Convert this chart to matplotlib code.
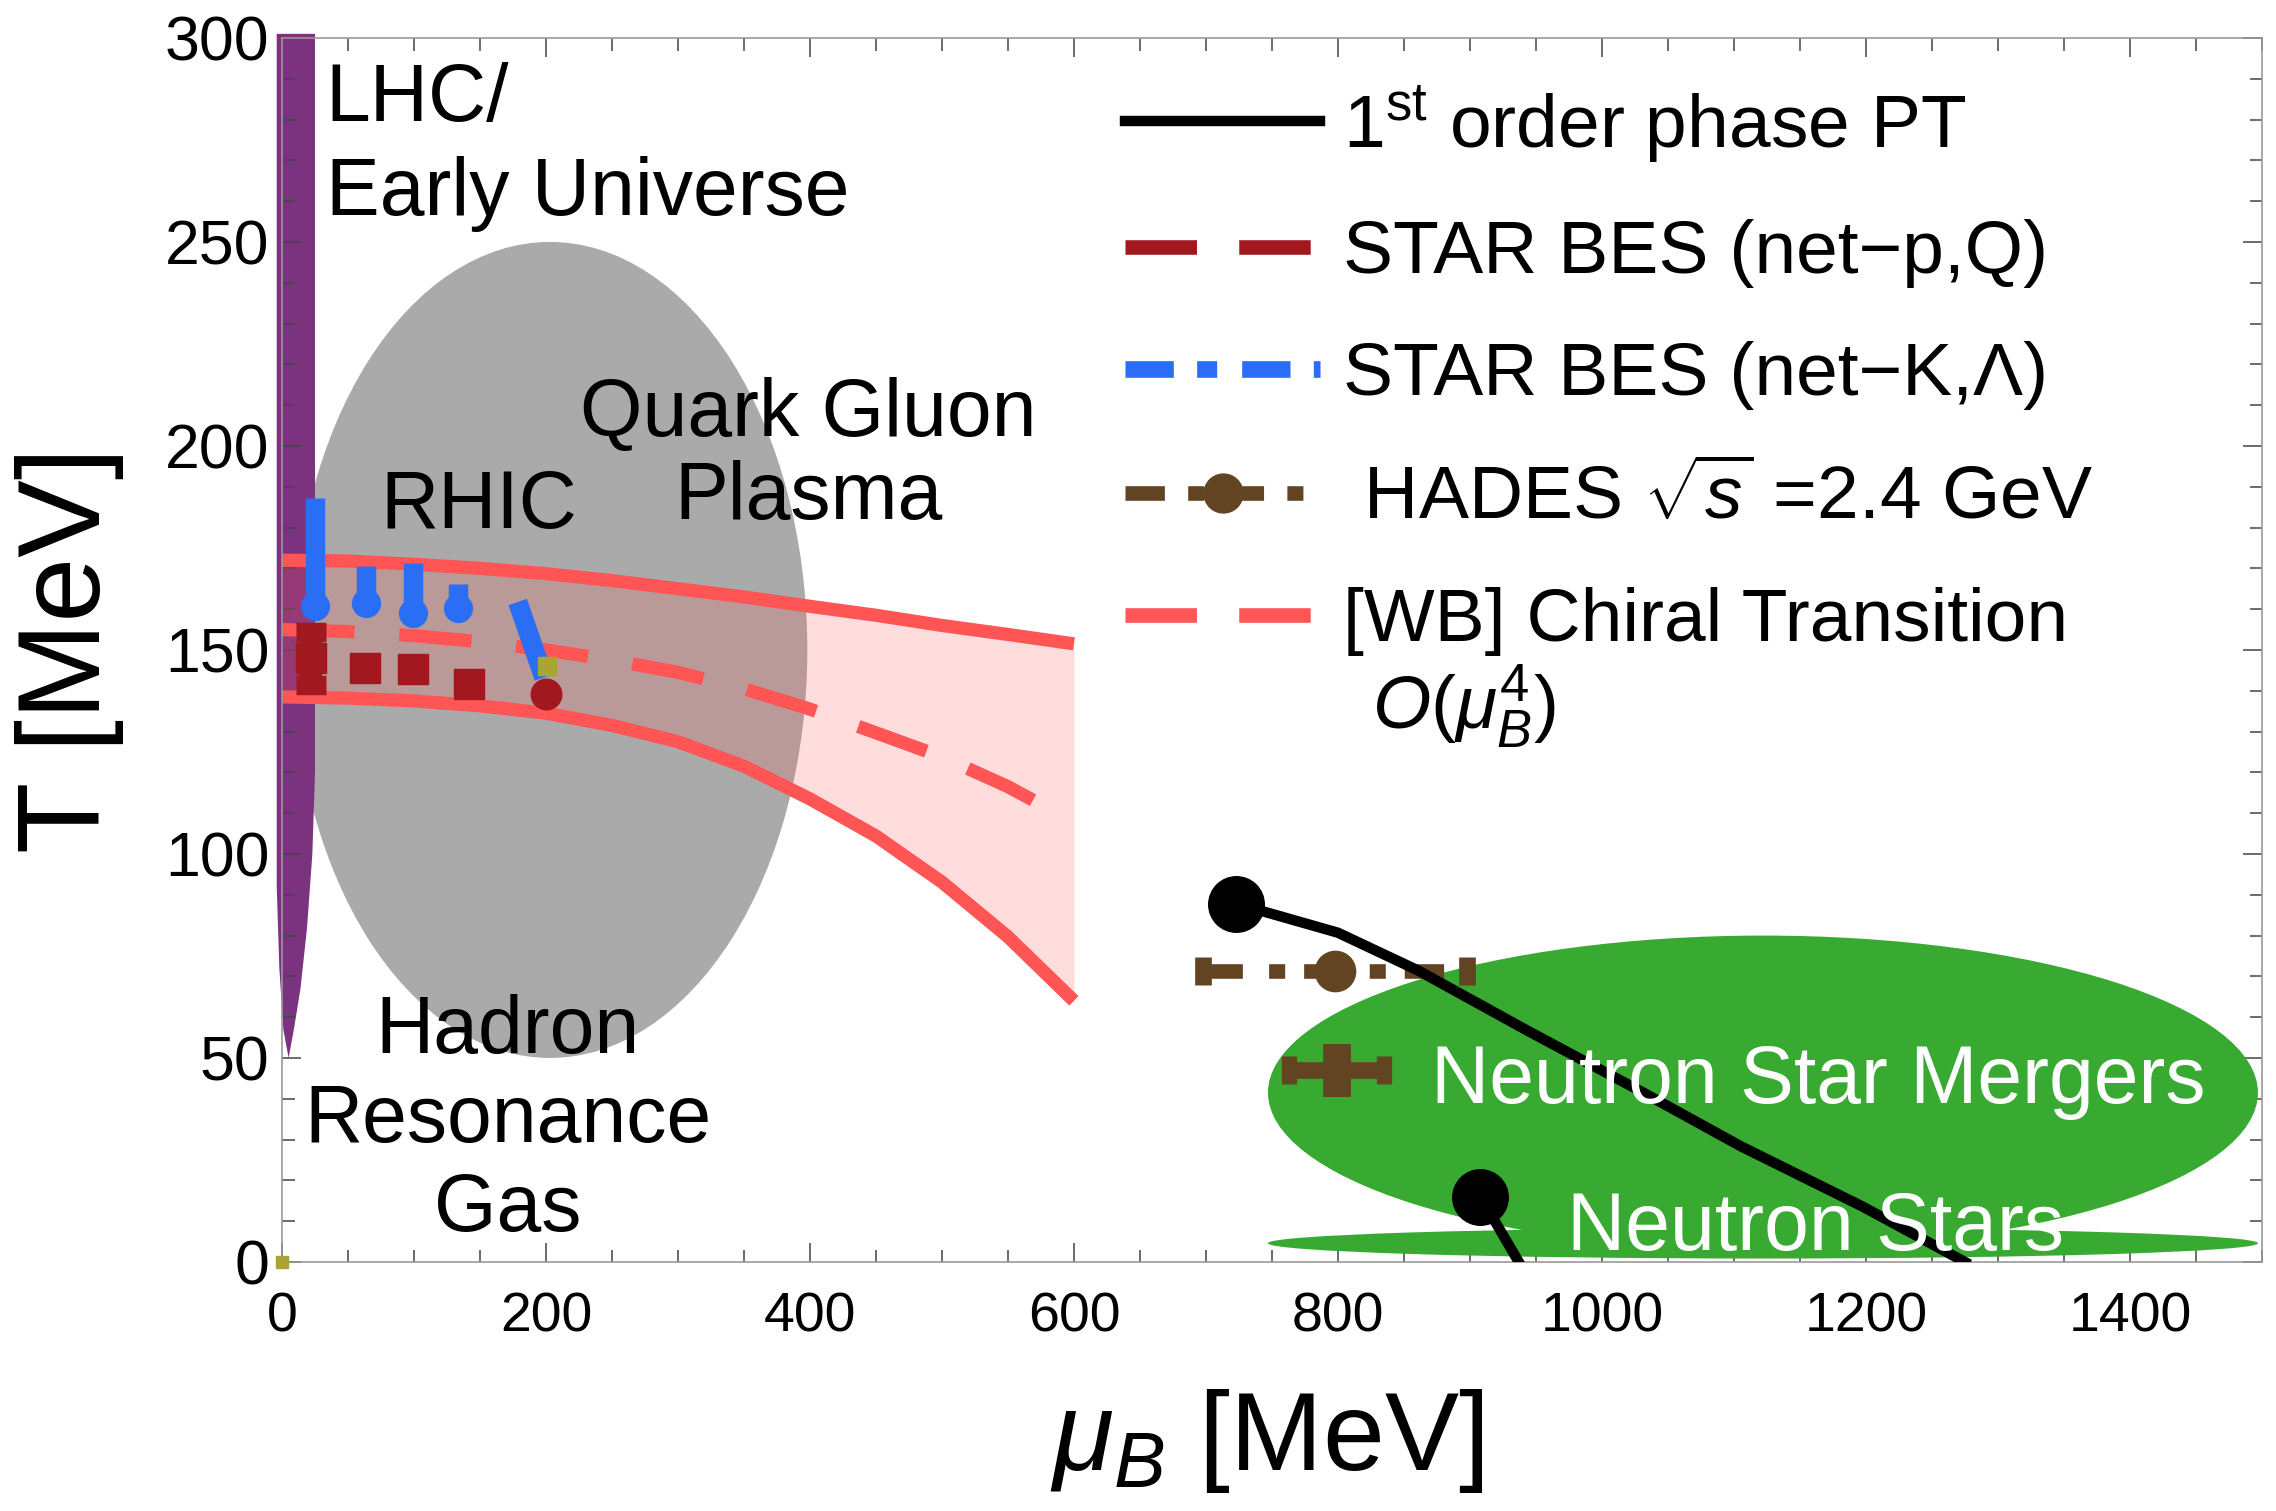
import matplotlib.pyplot as plt
from matplotlib.patches import Ellipse
from matplotlib.lines import Line2D

plt.rcParams['font.family'] = ['Liberation Sans', 'DejaVu Sans']
plt.rcParams['mathtext.fontset'] = 'custom'
plt.rcParams['mathtext.rm'] = 'Liberation Sans'
plt.rcParams['mathtext.it'] = 'Liberation Sans:italic'
plt.rcParams['mathtext.bf'] = 'Liberation Sans:bold'

# colours
GRAY = '#AAAAAA'
PURPLE = '#7B3380'
RED = '#FF5555'
DARKRED = '#A1191E'
BLUE = '#2A6EF5'
BROWN = '#634422'
OLIVE = '#A9A433'
GREEN = '#38AA32'

# [WB] chiral transition band
wb_mu = [0, 50, 100, 150, 200, 250, 300, 350, 400, 450, 500, 550, 600]
wb_upper = [172, 171.8, 171, 170, 168.7, 167, 165, 163, 160.7, 158.5, 156, 153.8, 151.5]
wb_lower = [138.5, 138.2, 137.5, 136.3, 134.5, 131.5, 127.5, 121.5, 113.5, 104.4, 93.1, 79.7, 64]
wb_mid_mu = [0, 50, 100, 150, 200, 250, 300, 350, 400, 450, 500, 550, 570]
wb_mid = [155, 154.5, 153.5, 152, 150, 147.5, 144.5, 140.5, 135.5, 129.7, 123.8, 116.5, 113]

# LHC / early universe region outline
lhc_mu = [-4, 25, 25, 23, 19, 14, 9, 5, 1, -2, -4]
lhc_T = [301, 301, 120, 100, 82, 67, 57, 50, 57, 72, 92]

# STAR BES net-p,Q
netp_mu = [22, 63, 99, 142]
netp_T = [148, 145.6, 145.3, 141.7]
netp_err = [6.5, 0, 0, 0]
netp_last_mu = [200]
netp_last_T = [139.3]

# STAR BES net-K,Lambda
kl_mu = [25, 64, 99, 133]
kl_T = [160.7, 161.5, 159.1, 160.3]
kl_lo = [1.5, 1.5, 1.5, 1.5]
kl_hi = [26.5, 9, 12.3, 5.8]
kl_slant_mu = [181, 196]
kl_slant_T = [159.5, 145.5]

olive_mu = [201, 0]
olive_T = [146, 0]

# HADES
hades_mu = [798]
hades_T = [71.4]
hades_xerr = [100]
nsm_mu = [799]
nsm_T = [47]
nsm_xerr = [36]
nsm_yerr = [6.5]

# 1st order phase transition lines
pt_mu = [723, 800, 861, 943, 1032, 1105, 1198, 1275]
pt_T = [87.8, 80.7, 71.4, 56.8, 41.4, 28.4, 13.5, 0]
pt2_mu = [908, 937]
pt2_T = [16, 0]

legend_labels = [r'1$^{\rm st}$ order phase PT',
                 'STAR BES (net\u2212p,Q)',
                 'STAR BES (net\u2212K,\u039b)',
                 r' HADES $\sqrt{s}$ =2.4 GeV',
                 '[WB] Chiral Transition']

fig = plt.figure(figsize=(22.76, 15.11), dpi=100)
ax = fig.add_axes([0.1239, 0.1648, 0.8699, 0.8101])
ax.set_xlim(0, 1500)
ax.set_ylim(0, 300)

# regions
ax.add_patch(Ellipse((203, 150), 390, 200, color=GRAY, lw=0, zorder=1.0))
ax.fill(lhc_mu, lhc_T, color=PURPLE, lw=0, zorder=1.1, clip_on=False)
ax.add_patch(Ellipse((1122, 41.5), 750, 77, color=GREEN, lw=0, zorder=2.2))
ax.add_patch(Ellipse((1122, 4.6), 750, 7.5, color=GREEN, lw=0, zorder=2.2))

# WB band
ax.fill_between(wb_mu, wb_lower, wb_upper, color=RED, alpha=0.2, lw=0, zorder=2.0)
ax.plot(wb_mu, wb_upper, color=RED, lw=9.5, zorder=2.1, solid_capstyle='butt')
ax.plot(wb_mu, wb_lower, color=RED, lw=9.5, zorder=2.1, solid_capstyle='butt')
ax.plot(wb_mid_mu, wb_mid, color=RED, lw=9.5, ls=(0, (5.5, 3.4)), zorder=2.1)

# STAR points
ax.errorbar(netp_mu, netp_T, yerr=netp_err, fmt='s', color=DARKRED, ms=21,
            elinewidth=16, capsize=11, capthick=14, zorder=3)
ax.plot(netp_last_mu, netp_last_T, 'o', color=DARKRED, ms=22, zorder=3)
ax.errorbar(kl_mu, kl_T, yerr=[kl_lo, kl_hi], fmt='o', color=BLUE, ms=20,
            elinewidth=14, capsize=0, zorder=3.1)
ax.plot(kl_slant_mu, kl_slant_T, color=BLUE, lw=14, solid_capstyle='projecting', zorder=3.1)
ax.plot(olive_mu[:1], olive_T[:1], 's', color=OLIVE, ms=13, zorder=3.2)
ax.plot(olive_mu[1:], olive_T[1:], 's', color=OLIVE, ms=8, zorder=3.2, clip_on=False)

# HADES
eb = ax.errorbar(hades_mu, hades_T, xerr=hades_xerr, fmt='o', color=BROWN, ms=29,
                 elinewidth=10.5, capsize=10, capthick=12, zorder=3)
eb.lines[2][0].set_linestyle((0, (2.7, 1.8, 1.1, 1.3)))
ax.errorbar(nsm_mu, nsm_T, xerr=nsm_xerr, fmt='o', color=BROWN, ms=14,
            elinewidth=12, capsize=10, capthick=11, zorder=3)
ax.errorbar(nsm_mu, nsm_T, yerr=nsm_yerr, fmt='none', ecolor=BROWN,
            elinewidth=20, capsize=0, zorder=3)

# first order transition
ax.plot(pt_mu, pt_T, color='black', lw=7.5, marker='o', ms=40, markevery=[0], zorder=4)
ax.plot(pt2_mu, pt2_T, color='black', lw=7.5, marker='o', ms=40, markevery=[0], zorder=4)

# region labels
ax.text(33, 294, 'LHC/\nEarly Universe', fontsize=58, ha='left', va='top', linespacing=1.3, zorder=5)
ax.text(149, 185, 'RHIC', fontsize=58, ha='center', va='center', zorder=5)
ax.text(399, 197.5, 'Quark Gluon\nPlasma', fontsize=58, ha='center', va='center',
        linespacing=1.12, zorder=5)
ax.text(171, 34.5, 'Hadron\nResonance\nGas', fontsize=58, ha='center', va='center',
        linespacing=1.22, zorder=5)
ax.text(1164, 44, 'Neutron Star Mergers', fontsize=58, color='white', ha='center',
        va='center', zorder=5)
ax.text(1162, 8, 'Neutron Stars', fontsize=58, color='white', ha='center',
        va='center', zorder=5)

# legend
handles = [Line2D([], [], color='black', lw=7.5),
           Line2D([], [], color=DARKRED, lw=10.5, ls=(0, (4.9, 2.9))),
           Line2D([], [], color=BLUE, lw=12, ls=(0, (2.9, 1.4, 1.2, 1.5))),
           Line2D([], [], color=BROWN, lw=10.5, ls=(0, (2.7, 1.6, 1.1, 1.4)),
                  marker='o', ms=28),
           Line2D([], [], color=RED, lw=10.5, ls=(0, (4.9, 2.9)))]
ax.legend(handles, legend_labels, loc='upper left', bbox_to_anchor=(0.426, 0.963),
          frameon=False, fontsize=54, handlelength=2.6, handletextpad=0.3,
          labelspacing=0.71, borderpad=0, borderaxespad=0)
ax.text(0.5505, 0.453, r'$O(\mu_B^4)$', transform=ax.transAxes, fontsize=54,
        ha='left', va='center')

# axes styling
ax.set_xticks(range(0, 1401, 200))
ax.set_xticks(range(0, 1501, 50), minor=True)
ax.set_yticks(range(0, 301, 50))
ax.set_yticks(range(0, 301, 10), minor=True)
ax.tick_params(which='both', direction='in', top=True, right=True, color='#444444', width=1.1)
ax.tick_params(which='major', length=14)
ax.tick_params(which='minor', length=9)
ax.tick_params(axis='x', labelsize=40, pad=21)
ax.tick_params(axis='y', labelsize=45, pad=9)
for sp in ax.spines.values():
    sp.set_color('#999999')
    sp.set_linewidth(1.2)

ax.set_xlabel(r'$\mu_B$ [MeV]', fontsize=80)
ax.xaxis.set_label_coords(0.4975, -0.102)
ax.set_ylabel('T [MeV]', fontsize=84)
ax.yaxis.set_label_coords(-0.08, 0.5)

fig.savefig('out.png', dpi=100)
